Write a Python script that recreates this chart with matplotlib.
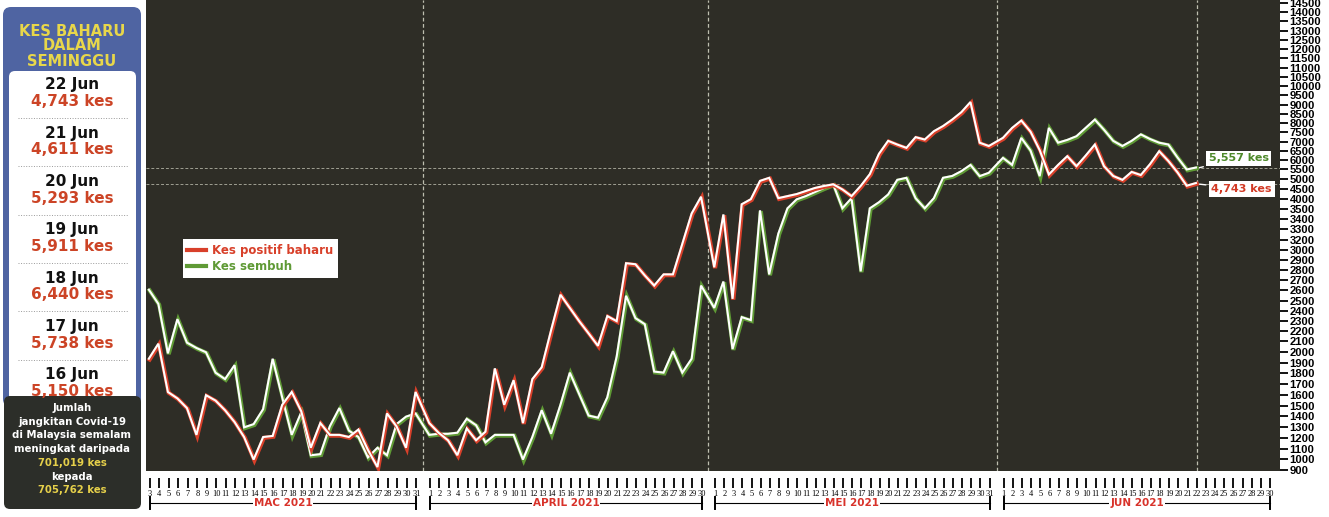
import numpy as np
import matplotlib
matplotlib.use('Agg')
import matplotlib.pyplot as plt
import matplotlib.transforms as mtransforms
from matplotlib.patches import FancyBboxPatch
from matplotlib.lines import Line2D

# --- data ---
month_names = ['MAC 2021', 'APRIL 2021', 'MEI 2021', 'JUN 2021']
month_days = [list(range(3, 32)), list(range(1, 31)), list(range(1, 32)), list(range(1, 31))]

positif_mac = [1930, 2070, 1620, 1560, 1470, 1220, 1590, 1540, 1450, 1340, 1200, 990, 1200, 1210,
               1500, 1620, 1440, 1100, 1330, 1220, 1220, 1200, 1270, 1080, 920, 1420, 1300, 1100, 1620]
positif_apr = [1330, 1240, 1170, 1030, 1280, 1170, 1250, 1840, 1500, 1730, 1330, 1740, 1850, 2200, 2550,
               2420, 2290, 2170, 2050, 2340, 2290, 2860, 2850, 2740, 2640, 2750, 2750, 3100, 3450, 4070]
positif_mei = [2820, 3440, 2510, 3700, 3950, 4850, 5000, 4000, 4100, 4200, 4350, 4500, 4600, 4680, 4430,
               4100, 4600, 5200, 6300, 7000, 6800, 6620, 7200, 7070, 7520, 7800, 8150, 8550, 9100, 6900, 6720]
positif_jun = [7160, 7700, 8100, 7500, 6500, 5180, 5700, 6170, 5630, 6200, 6800, 5630, 5100, 4900, 5320,
               5150, 5738, 6440, 5911, 5293, 4611, 4743]

sembuh_mac = [2600, 2460, 1980, 2310, 2080, 2030, 1990, 1800, 1740, 1870, 1290, 1320, 1460, 1930,
              1570, 1220, 1430, 1030, 1040, 1300, 1470, 1260, 1200, 1010, 1100, 1030, 1320, 1390, 1420]
sembuh_apr = [1220, 1230, 1230, 1240, 1370, 1310, 1150, 1220, 1220, 1220, 990, 1200, 1450, 1230, 1500,
              1800, 1600, 1400, 1380, 1570, 1950, 2540, 2320, 2260, 1810, 1800, 2000, 1800, 1930, 2640]
sembuh_mei = [2420, 2680, 2020, 2330, 2300, 3480, 2750, 3250, 3500, 3940, 4100, 4300, 4500, 4680, 3500,
              4000, 2780, 3500, 3800, 4180, 4900, 5000, 4000, 3500, 4000, 5000, 5100, 5360, 5700, 5090, 5270]
sembuh_jun = [6080, 5700, 7160, 6480, 5090, 7700, 6900, 7050, 7250, 7700, 8150, 7600, 7000, 6720, 7000,
              7350, 7100, 6900, 6800, 6100, 5450, 5557]

y_ticks = list(range(900, 3001, 100)) + [3200, 3300, 3400, 3500] + list(range(4000, 14501, 500))

panel_dates = ['22 Jun', '21 Jun', '20 Jun', '19 Jun', '18 Jun', '17 Jun', '16 Jun']
panel_cases = [4743, 4611, 5293, 5911, 6440, 5738, 5150]
jumlah_lama = 701019
jumlah_baru = 705762

RED = '#d8402a'
GREEN = '#5f9a35'
BG = '#2e2d26'

# where the first and last day of each month sit on the printed day scale (in day widths)
month_span = [(0.0, 28.68), (30.15, 59.38), (60.8, 90.32), (91.84, 120.5)]

day_x = [list(np.linspace(a, b, len(days))) for (a, b), days in zip(month_span, month_days)]
all_x = [x for xs in day_x for x in xs]
all_labels = [str(d) for days in month_days for d in days]

positif = positif_mac + positif_apr + positif_mei + positif_jun
sembuh = sembuh_mac + sembuh_apr + sembuh_mei + sembuh_jun
x_data = all_x[:len(positif)]

# the printed axis is not linear: every tick label gets (almost) the same space
tick_pos = np.interp(np.arange(len(y_ticks)), [0, 12, 28, 47], [0, 129, 292, 468])
vals_ext = np.array([800] + y_ticks + [15000], dtype=float)
pos_ext = np.concatenate([[-10.75], tick_pos, [468 + 9.26]])


def forward(v):
    return np.interp(v, vals_ext, pos_ext)


def inverse(p):
    return np.interp(p, pos_ext, vals_ext)


W, H = 1329, 517
fig = plt.figure(figsize=(W / 100, H / 100), dpi=100)
fig.patch.set_facecolor('white')

ax = fig.add_axes([146 / W, 46 / H, 1134 / W, 471 / H])
ax.set_facecolor(BG)
ax.set_yscale('function', functions=(forward, inverse))
ax.set_ylim(inverse(-1), inverse(471))
ax.set_xlim(-0.39, 121.55)

for s in ax.spines.values():
    s.set_visible(False)
ax.spines['bottom'].set_position(('outward', 5))

# right axis
ax.yaxis.tick_right()
ax.set_yticks(y_ticks)
ax.set_yticklabels([str(v) for v in y_ticks], fontsize=8.1, fontweight='bold',
                   family='Liberation Sans')
ax.tick_params(axis='y', length=6, width=1.3, color='black', pad=1)

# day ticks
ax.set_xticks(all_x)
ax.set_xticklabels(all_labels, fontsize=6.0, family='Liberation Serif')
ax.tick_params(axis='x', length=7, width=1.3, color='black', pad=1.5)

# reference lines
for i in range(1, len(day_x)):
    ax.axvline((day_x[i - 1][-1] + day_x[i][0]) / 2, color='#d8d8c8', lw=0.9, ls=(0, (3, 2)), alpha=0.85)
ax.axvline(x_data[-1], color='#d8d8c8', lw=0.9, ls=(0, (3, 2)), alpha=0.85)
ax.axhline(sembuh[-1], color='#cfcfc0', lw=0.7, ls=(0, (3, 2)), alpha=0.7)
ax.axhline(positif[-1], color='#cfcfc0', lw=0.7, ls=(0, (3, 2)), alpha=0.7)

# the two series: white line with coloured fringe
shift = mtransforms.offset_copy(ax.transData, fig=fig, x=-0.8, y=0.8, units='dots')
for series, col in [(sembuh, GREEN), (positif, RED)]:
    ax.plot(x_data, series, color=col, lw=3.0, solid_joinstyle='miter')
    ax.plot(x_data, series, color='white', lw=1.5, transform=shift, solid_joinstyle='miter')

# end labels
for val, col, dx, dy in [(sembuh[-1], '#4e8a2a', 42, 10), (positif[-1], '#d23a25', 45, -5)]:
    ax.annotate(f'{val:,} kes', xy=(x_data[-1], val), xytext=(dx, dy), textcoords='offset pixels',
                ha='center', va='center', fontsize=8, fontweight='bold', color=col,
                bbox=dict(boxstyle='square,pad=0.25', fc='white', ec='none'),
                arrowprops=dict(arrowstyle='-', color='white', lw=1.0))

# legend
handles = [Line2D([], [], color=RED, lw=3), Line2D([], [], color=GREEN, lw=3)]
leg = ax.legend(handles, ['Kes positif baharu', 'Kes sembuh'], loc='upper left',
                bbox_to_anchor=(0.027, 0.505), frameon=True, fancybox=False,
                prop=dict(size=8.5, weight='bold'), handlelength=1.6, handletextpad=0.5,
                borderpad=0.4, labelspacing=0.3)
leg.get_frame().set_facecolor('white')
leg.get_frame().set_edgecolor('none')
leg.get_frame().set_alpha(1)
leg.get_texts()[0].set_color(RED)
leg.get_texts()[1].set_color(GREEN)

# month brackets under the day numbers
btr = mtransforms.blended_transform_factory(ax.transData, ax.transAxes)
yb = -32 / 471
for xs, name in zip(day_x, month_names):
    x0, x1 = xs[0], xs[-1]
    ax.plot([x0, x1], [yb, yb], color='black', lw=0.8, transform=btr, clip_on=False)
    for xe in (x0, x1):
        ax.plot([xe, xe], [yb - 0.013, yb + 0.013], color='black', lw=1.4, transform=btr, clip_on=False)
    ax.text((x0 + x1) / 2, yb, name, transform=btr, ha='center', va='center', fontsize=7.5,
            fontweight='bold', color='#d8322a',
            bbox=dict(boxstyle='square,pad=0.1', fc='white', ec='none'))

# left panel
pax = fig.add_axes([0, 0, 145 / W, 1])
pax.set_xlim(0, 145)
pax.set_ylim(H, 0)
pax.axis('off')
pax.add_patch(FancyBboxPatch((3, 7), 138, 400, boxstyle='round,pad=0,rounding_size=8',
                             fc='#4f64a2', ec='none'))
pax.add_patch(FancyBboxPatch((9, 71), 127, 330, boxstyle='round,pad=0,rounding_size=6',
                             fc='white', ec='none'))
pax.add_patch(FancyBboxPatch((4, 396), 137, 113, boxstyle='round,pad=0,rounding_size=6',
                             fc='#2c2e29', ec='none'))
for yy, t in zip([31, 46, 61], ['KES BAHARU', 'DALAM', 'SEMINGGU']):
    pax.text(72, yy, t, ha='center', va='center', fontsize=10.5, fontweight='bold', color='#e8d74a')
for i, (d, c) in enumerate(zip(panel_dates, panel_cases)):
    y0 = 85 + i * 48.3
    pax.text(72, y0, d, ha='center', va='center', fontsize=11, fontweight='bold', color='#111111')
    pax.text(72, y0 + 16.5, f'{c:,} kes', ha='center', va='center', fontsize=11,
             fontweight='bold', color='#cc4426')
    if i < len(panel_dates) - 1:
        pax.plot([18, 128], [y0 + 33, y0 + 33], color='#9a9a9a', lw=0.7, ls=':')
lines = [('Jumlah', 'white'), ('jangkitan Covid-19', 'white'), ('di Malaysia semalam', 'white'),
         ('meningkat daripada', 'white'), (f'{jumlah_lama:,} kes', '#e6d04a'), ('kepada', 'white'),
         (f'{jumlah_baru:,} kes', '#e6d04a')]
for i, (t, col) in enumerate(lines):
    pax.text(72, 408 + i * 13.7, t, ha='center', va='center', fontsize=7.3, fontweight='bold', color=col)

fig.savefig('out.png', dpi=100)
